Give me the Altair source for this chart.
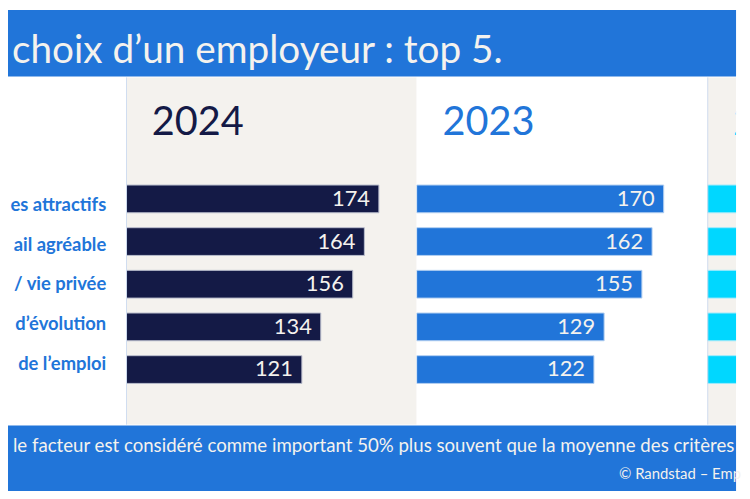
import altair as alt
import pandas as pd

# ---- data (the reference is a crop: texts as visible) ----
titre = "choix d’un employeur : top 5."
criteres = [
    "es attractifs",
    "ail agréable",
    "/ vie privée",
    "d’évolution",
    "de l’emploi",
]
annees = ["2024", "2023", "2022"]
valeurs_2024 = [174, 164, 156, 134, 121]
valeurs_2023 = [170, 162, 155, 129, 122]
valeurs_2022 = [168, 160, 150, 131, 125]  # bars run past the crop, estimated
note = "le facteur est considéré comme important 50% plus souvent que la moyenne des critères"
source = "© Randstad – Emp"

# ---- style ----
FONT = "Lato"
BLUE = "#2175D9"
NAVY = "#141A46"
CYAN = "#00D7FF"
BEIGE = "#F4F2EE"
OFFWHITE = "#F4F2EE"
LINE = "#CFDDF0"
EDGE = {"2024": "#B9BDCC", "2023": "#B3CFF1", "2022": "#9FEAFB"}

W_LAB, W_PAN = 119, 293
TOTAL_W, TOTAL_H = 734, 483
W_LAST = TOTAL_W - W_LAB - 2 * W_PAN
H_TOP, H_MID = 67, 350
H_BOT = TOTAL_H - H_TOP - H_MID

rows = []
for annee, vals in zip(annees, [valeurs_2024, valeurs_2023, valeurs_2022]):
    for c, v in zip(criteres, vals):
        rows.append({"annee": annee, "critere": c, "valeur": v})
df = pd.DataFrame(rows)

yscale = alt.Scale(domain=criteres, range=[108.5, 308.5], paddingInner=0.35, paddingOuter=0)
xscale = alt.Scale(domain=[0, 200], range=[0, W_PAN])


def panel(annee, color, width, fill, rule, show_numbers):
    d = df[df.annee == annee]
    base = alt.Chart(d)
    enc = dict(
        x=alt.X("valeur:Q", scale=xscale, axis=None),
        y=alt.Y("critere:N", scale=yscale, axis=None, sort=criteres),
    )
    bars = base.mark_bar(
        color=color, stroke=EDGE[annee], strokeWidth=1, clip=True
    ).encode(**enc)
    layers = [bars]
    if show_numbers:
        layers.append(
            base.mark_text(
                align="right", baseline="middle", dx=-9, font=FONT, fontSize=22,
                color=OFFWHITE,
            ).encode(text="valeur:Q", **enc)
        )
    layers.append(
        alt.Chart(pd.DataFrame({"annee": [annee]})).mark_text(
            align="left", baseline="middle", font=FONT, fontSize=40, color=color, clip=True
        ).encode(x=alt.value(26), y=alt.value(46), text="annee:N")
    )
    if rule:
        layers.append(
            alt.Chart(pd.DataFrame({"a": [0]})).mark_rule(color=LINE, strokeWidth=1).encode(
                x=alt.value(0.5), y=alt.value(0), y2=alt.value(H_MID)
            )
        )
    return alt.layer(*layers).properties(
        width=width, height=H_MID, view=alt.ViewBackground(fill=fill, stroke=None)
    )


labels = alt.Chart(pd.DataFrame({"critere": criteres})).mark_text(
    align="right", baseline="middle", font=FONT, fontSize=18.5, fontWeight="bold",
    color=BLUE,
).encode(
    x=alt.value(99),
    y=alt.Y("critere:N", scale=yscale, axis=None, sort=criteres),
    text="critere:N",
).properties(width=W_LAB, height=H_MID, view=alt.ViewBackground(fill="white", stroke=None))

p24 = panel("2024", NAVY, W_PAN, BEIGE, True, True)
p23 = panel("2023", BLUE, W_PAN, "white", False, True)
p22 = panel("2022", CYAN, W_LAST, BEIGE, True, False)

top = alt.Chart(pd.DataFrame({"t": [titre]})).mark_text(
    align="left", baseline="alphabetic", font=FONT, fontSize=39, color=OFFWHITE
).encode(x=alt.value(4), y=alt.value(53), text="t:N").properties(
    width=TOTAL_W, height=H_TOP, view=alt.ViewBackground(fill=BLUE, stroke=None)
)

foot1 = alt.Chart(pd.DataFrame({"t": [note]})).mark_text(
    align="left", baseline="middle", font=FONT, fontSize=18.8, color=OFFWHITE
).encode(x=alt.value(5), y=alt.value(21), text="t:N")
foot2 = alt.Chart(pd.DataFrame({"t": [source]})).mark_text(
    align="left", baseline="middle", font=FONT, fontSize=15, color=OFFWHITE
).encode(x=alt.value(616), y=alt.value(49), text="t:N")
bottom = alt.layer(foot1, foot2).properties(
    width=TOTAL_W, height=H_BOT, view=alt.ViewBackground(fill=BLUE, stroke=None)
)

chart = alt.vconcat(
    top,
    alt.hconcat(labels, p24, p23, p22, spacing=0),
    bottom,
    spacing=0,
).properties(padding=0, background="white").configure_view(stroke=None)

chart.save("out.html", embed_options={"renderer": "svg", "actions": False})
